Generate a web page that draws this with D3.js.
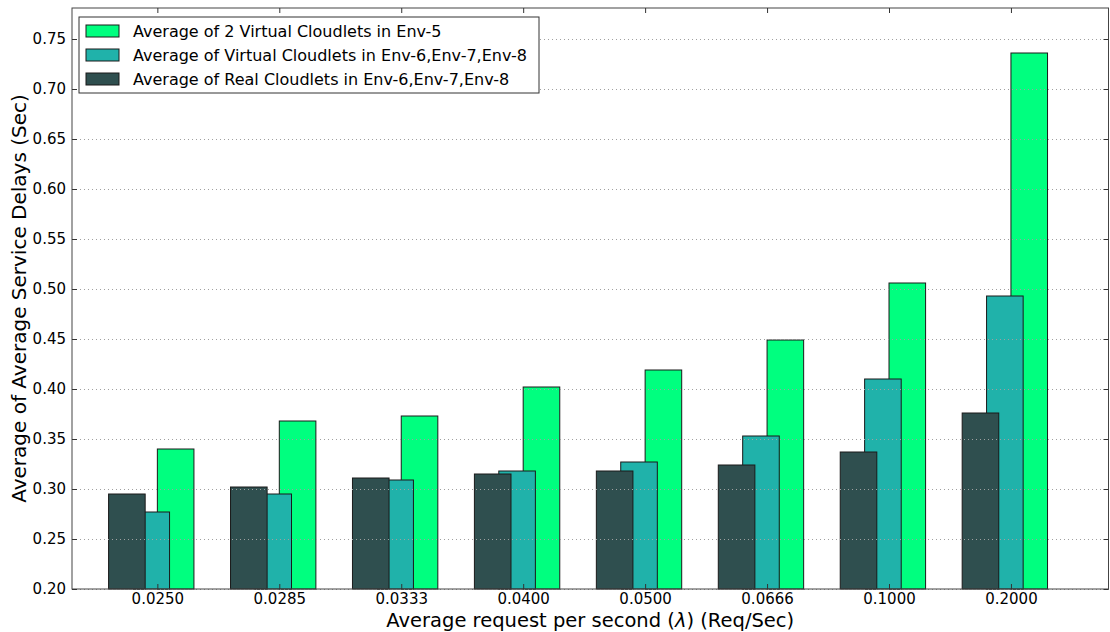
<!DOCTYPE html>
<html>
<head>
<meta charset="utf-8">
<script src="https://cdn.jsdelivr.net/npm/d3@7"></script>
<style>
  html, body { margin: 0; padding: 0; background: #fff; }
  svg { display: block; font-family: "DejaVu Sans", sans-serif; }
</style>
</head>
<body>
<svg id="chart" width="1110" height="632"></svg>
<script>
// Arrival rates (λ) on the x axis
const categories = ["0.0250", "0.0285", "0.0333", "0.0400", "0.0500", "0.0666", "0.1000", "0.2000"];

// Average service delays (sec) per series
const env5Virtual   = [0.340, 0.368, 0.373, 0.402, 0.419, 0.449, 0.506, 0.736];
const multiVirtual  = [0.277, 0.295, 0.309, 0.318, 0.327, 0.353, 0.410, 0.493];
const multiReal     = [0.295, 0.302, 0.311, 0.315, 0.318, 0.324, 0.337, 0.376];

const seriesNames = [
  "Average of 2 Virtual Cloudlets in Env-5",
  "Average of Virtual Cloudlets in Env-6,Env-7,Env-8",
  "Average of Real Cloudlets in Env-6,Env-7,Env-8"
];
const seriesColors = ["#00ff7f", "#20b2aa", "#2f4f4f"];

const yTicks = [0.20, 0.25, 0.30, 0.35, 0.40, 0.45, 0.50, 0.55, 0.60, 0.65, 0.70, 0.75];

// Layout
const plot = { left: 72, right: 1108.5, top: 8, bottom: 589 };
const barWidth = 0.3;

const svg = d3.select("#chart");

const x = d3.scaleLinear().domain([-0.7, 7.8]).range([plot.left, plot.right]);
const y = d3.scaleLinear().domain([0.2, 0.781]).range([plot.bottom, plot.top]);

// Series drawn back to front: green first, dark last (each overlaps the previous)
const series = [
  { name: seriesNames[0], color: seriesColors[0], values: env5Virtual,  offset: 0.0 },
  { name: seriesNames[1], color: seriesColors[1], values: multiVirtual, offset: -0.2 },
  { name: seriesNames[2], color: seriesColors[2], values: multiReal,    offset: -0.4 }
];

const bars = svg.append("g").attr("class", "bars");
series.forEach(s => {
  bars.append("g")
    .selectAll("rect")
    .data(s.values)
    .join("rect")
    .attr("x", (d, i) => x(i + s.offset))
    .attr("width", (d, i) => x(i + s.offset + barWidth) - x(i + s.offset))
    .attr("y", d => y(d))
    .attr("height", d => y(0.2) - y(d))
    .attr("fill", s.color)
    .attr("stroke", "#1a1a1a")
    .attr("stroke-width", 1);
});

// Dotted horizontal grid, over the bars
const grid = svg.append("g")
  .attr("transform", `translate(${plot.left},0)`)
  .call(d3.axisLeft(y).tickValues(yTicks).tickSize(-(plot.right - plot.left)).tickFormat(""));
grid.select(".domain").remove();
grid.selectAll("line")
  .attr("stroke", "#a0a0a0")
  .attr("stroke-width", 1)
  .attr("stroke-dasharray", "1,3");

// Frame
svg.append("rect")
  .attr("x", plot.left).attr("y", plot.top)
  .attr("width", plot.right - plot.left)
  .attr("height", plot.bottom - plot.top)
  .attr("fill", "none")
  .attr("stroke", "#444")
  .attr("stroke-width", 1);

const tickLen = 5;
const xIdx = categories.map((c, i) => i);

// Bottom axis: inward ticks, category labels
const xAxis = svg.append("g")
  .attr("transform", `translate(0,${plot.bottom})`)
  .call(d3.axisBottom(x).tickValues(xIdx).tickFormat(i => categories[i])
        .tickSize(-tickLen).tickPadding(4.5));
xAxis.select(".domain").remove();
xAxis.selectAll("line").attr("stroke", "#333");
xAxis.selectAll("text")
  .attr("font-size", 15)
  .attr("fill", "#000")
  .attr("font-family", "DejaVu Sans");

// Top ticks
const xTop = svg.append("g")
  .attr("transform", `translate(0,${plot.top})`)
  .call(d3.axisTop(x).tickValues(xIdx).tickSize(-tickLen).tickFormat(""));
xTop.select(".domain").remove();
xTop.selectAll("line").attr("stroke", "#333");

// Left axis
const yAxis = svg.append("g")
  .attr("transform", `translate(${plot.left},0)`)
  .call(d3.axisLeft(y).tickValues(yTicks).tickFormat(d3.format(".2f"))
        .tickSize(-tickLen).tickPadding(tickLen + 1));
yAxis.select(".domain").remove();
yAxis.selectAll("line").attr("stroke", "#333");
yAxis.selectAll("text")
  .attr("font-size", 15)
  .attr("fill", "#000")
  .attr("font-family", "DejaVu Sans");

// Right ticks
const yRight = svg.append("g")
  .attr("transform", `translate(${plot.right},0)`)
  .call(d3.axisRight(y).tickValues(yTicks).tickSize(-tickLen).tickFormat(""));
yRight.select(".domain").remove();
yRight.selectAll("line").attr("stroke", "#333");

// Axis titles
const xTitle = svg.append("text")
  .attr("x", (plot.left + plot.right) / 2)
  .attr("y", 627)
  .attr("text-anchor", "middle")
  .attr("font-size", 19.5)
  .attr("fill", "#000");
xTitle.append("tspan").text("Average request per second (");
xTitle.append("tspan").attr("font-style", "italic").text("λ");
xTitle.append("tspan").text(") (Req/Sec)");

svg.append("text")
  .attr("transform", `translate(26,${(plot.top + plot.bottom) / 2}) rotate(-90)`)
  .attr("text-anchor", "middle")
  .attr("font-size", 20)
  .attr("fill", "#000")
  .text("Average of Average Service Delays (Sec)");

// Legend
const legend = svg.append("g");
legend.append("rect")
  .attr("x", 79).attr("y", 17)
  .attr("width", 460).attr("height", 76)
  .attr("fill", "#fff")
  .attr("stroke", "#333")
  .attr("stroke-width", 1);

const legendRows = legend.selectAll("g.row")
  .data(series)
  .join("g")
  .attr("class", "row")
  .attr("transform", (d, i) => `translate(0,${31 + i * 24})`);
legendRows.append("rect")
  .attr("x", 86).attr("y", -6)
  .attr("width", 33).attr("height", 12)
  .attr("fill", d => d.color)
  .attr("stroke", "#1a1a1a")
  .attr("stroke-width", 1);
legendRows.append("text")
  .attr("x", 133).attr("y", 6)
  .attr("font-size", 16)
  .attr("fill", "#000")
  .text(d => d.name);
</script>
</body>
</html>
